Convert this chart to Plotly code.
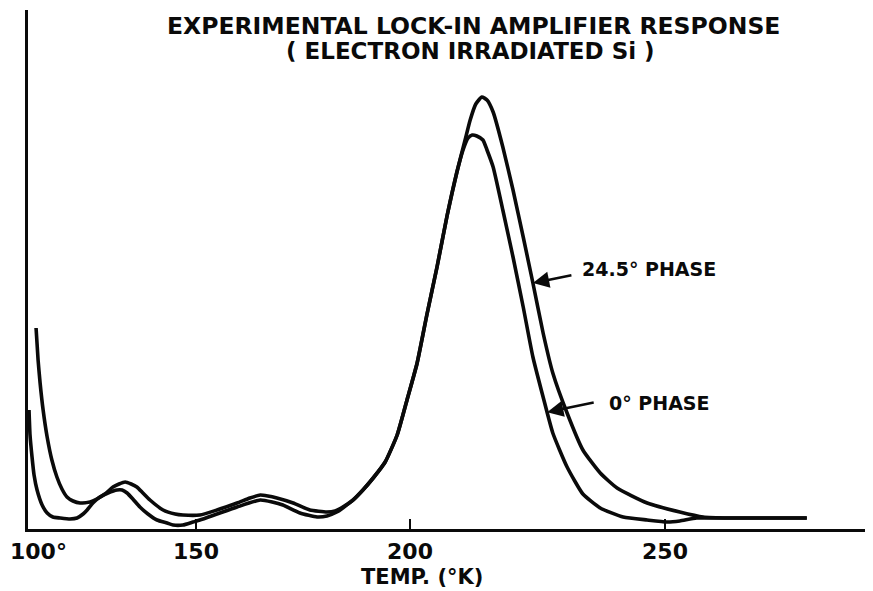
import numpy as np
import plotly.graph_objects as go

# Temperature scale of the recorder chart is non-linear: calibration of
# temperature (K) to chart distance (arbitrary chart units)
CAL_T = [100, 150, 200, 250, 300]
CAL_U = [0, 168, 382, 637, 892]

# 24.5 deg phase curve (temperature K, signal arb. units)
T_A = [102.4, 103.0, 103.6, 104.5, 105.7, 107.1, 108.6, 110.1, 111.6, 113.4,
       115.5, 118.5, 120.5, 122.9, 125.3, 127.1, 128.9, 130.7, 132.4, 134.2,
       136.3, 140.2, 143.8, 146.1, 150.9, 154.9, 159.6, 162.6, 165.0, 166.8,
       168.9, 172.7, 176.6, 180.6, 182.5, 184.3, 186.7, 189.0, 191.4, 194.2,
       197.0, 199.3, 201.4, 203.3, 205.3, 207.3, 209.2, 210.8, 211.8, 212.9,
       214.1, 215.1, 216.3, 218.2, 220.2, 222.2, 224.1, 226.1, 228.0, 230.8,
       233.9, 237.3, 240.6, 246.5, 252.9, 257.5, 262.7, 269.2, 277.8]
S_A = [201, 169, 146, 119, 92, 69, 52, 40, 32, 28,
       26, 27, 30, 35, 42, 45, 47, 45, 42, 36,
       29, 19, 15, 14, 14, 19, 26, 31, 34, 33,
       31, 26, 19, 17, 18, 22, 29, 39, 51, 67,
       94, 129, 166, 214, 262, 314, 357, 389, 409, 425,
       432, 429, 417, 382, 339, 292, 246, 196, 156, 116,
       79, 56, 41, 26, 17, 12, 11, 11, 11]

# 0 deg phase curve
T_B = [100.3, 100.6, 101.2, 101.8, 102.7, 104.2, 105.7, 107.4, 109.5, 112.5,
       114.6, 116.4, 117.6, 119.3, 121.4, 123.8, 126.5, 128.0, 129.5, 131.2,
       133.3, 135.7, 138.4, 141.4, 143.2, 146.1, 149.1, 150.9, 154.9, 159.6,
       165.0, 167.8, 170.3, 174.3, 178.3, 180.6, 182.9, 184.3, 186.7, 189.0,
       191.4, 194.2, 197.0, 199.3, 201.4, 203.3, 205.3, 207.3, 209.2, 210.4,
       211.4, 212.2, 213.1, 214.3, 215.1, 216.3, 218.2, 220.2, 222.2, 224.1,
       226.1, 228.0, 230.8, 233.9, 237.3, 241.8, 246.5, 250.4, 252.9, 256.2,
       262.7, 269.2, 277.8]
S_B = [119, 94, 72, 54, 39, 24, 16, 12, 11, 10,
       11, 15, 19, 26, 32, 36, 39, 39, 36, 30,
       22, 15, 9, 6, 4, 4, 7, 9, 15, 22,
       29, 27, 24, 16, 12, 13, 17, 21, 29, 39,
       51, 67, 94, 129, 166, 214, 262, 314, 357, 379,
       391, 394, 393, 389, 379, 362, 319, 272, 222, 172,
       132, 96, 62, 35, 21, 12, 9, 7, 8, 11,
       11, 11, 11]

TICK_T = [150, 200, 250]
TICK_TEXT = ["150", "200", "250"]
ORIGIN_T = 100
ORIGIN_TEXT = "100°"

TITLE_1 = "EXPERIMENTAL LOCK-IN AMPLIFIER RESPONSE"
TITLE_2 = "( ELECTRON IRRADIATED Si )"
X_TITLE = "TEMP. (°K)"
LABEL_A = "24.5° PHASE"
LABEL_B = "0° PHASE"
ARROW_T = [224.1, 226.9]


def chart(t):
    t = np.asarray(t, dtype=float)
    return np.interp(t, CAL_T, CAL_U)


FONT = "DejaVu Sans"
INK = "#0a0a0a"

fig = go.Figure()
fig.add_trace(go.Scatter(x=chart(T_B), y=S_B, mode="lines", name=LABEL_B,
                         line=dict(color=INK, width=3.6, shape="spline", smoothing=0.5)))
fig.add_trace(go.Scatter(x=chart(T_A), y=S_A, mode="lines", name=LABEL_A,
                         line=dict(color=INK, width=3.6, shape="spline", smoothing=0.5)))

sA = float(np.interp(ARROW_T[0], T_A, S_A))
sB = float(np.interp(ARROW_T[1], T_B, S_B))

annotations = [
    dict(x=0.527, y=0.969, xref="paper", yref="paper", text=TITLE_1, showarrow=False,
         xanchor="center", yanchor="middle",
         font=dict(family=FONT, size=23.5, color=INK, weight="bold")),
    dict(x=0.524, y=0.921, xref="paper", yref="paper", text=TITLE_2, showarrow=False,
         xanchor="center", yanchor="middle",
         font=dict(family=FONT, size=23, color=INK, weight="bold")),
    dict(x=0.466, y=-0.0925, xref="paper", yref="paper", text=X_TITLE, showarrow=False,
         xanchor="center", yanchor="middle",
         font=dict(family=FONT, size=21, color=INK, weight="bold")),
    dict(x=float(chart(ORIGIN_T)), y=-0.0443, xref="x", yref="paper", text=ORIGIN_TEXT,
         showarrow=False, xanchor="left", yanchor="middle", xshift=-20,
         font=dict(family=FONT, size=22, color=INK, weight="bold")),
    dict(x=float(chart(ARROW_T[0])), y=sA, xref="x", yref="y", text="", showarrow=True,
         ax=40, ay=-8, arrowhead=2, arrowsize=1.3, arrowwidth=2.5, arrowcolor=INK),
    dict(x=float(chart(ARROW_T[1])), y=sB, xref="x", yref="y", text="", showarrow=True,
         ax=48, ay=-10, arrowhead=2, arrowsize=1.3, arrowwidth=2.5, arrowcolor=INK),
    dict(x=float(chart(ARROW_T[0])) + 47, y=sA + 14, xref="x", yref="y", text=LABEL_A,
         showarrow=False, xanchor="left", yanchor="middle",
         font=dict(family=FONT, size=19, color=INK, weight="bold")),
    dict(x=float(chart(ARROW_T[1])) + 60, y=sB + 9, xref="x", yref="y", text=LABEL_B,
         showarrow=False, xanchor="left", yanchor="middle",
         font=dict(family=FONT, size=19, color=INK, weight="bold")),
]

fig.update_layout(
    width=873, height=591,
    margin=dict(l=20, r=8, t=2, b=70),
    paper_bgcolor="white", plot_bgcolor="white",
    showlegend=False,
    annotations=annotations,
    xaxis=dict(range=[0, 845], showgrid=False, zeroline=False, automargin=False,
               showline=True, linewidth=2.5, linecolor=INK,
               ticks="inside", ticklen=10, tickwidth=2, tickcolor=INK,
               tickvals=chart(TICK_T), ticktext=TICK_TEXT, ticklabelstandoff=1,
               ticklabeloverflow="allow",
               tickfont=dict(family=FONT, size=22, color=INK, weight="bold")),
    yaxis=dict(range=[0, 519], showgrid=False, zeroline=False, automargin=False,
               showline=True, linewidth=3, linecolor=INK,
               showticklabels=False, ticks=""),
)

fig.write_html("out.html")
